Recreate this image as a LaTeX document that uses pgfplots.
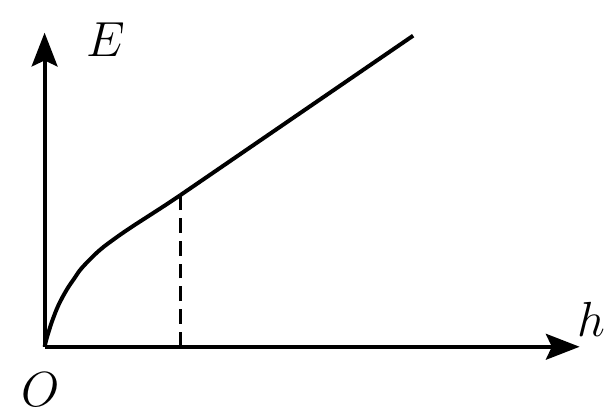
\documentclass[border=0pt]{standalone}
\usepackage{pgfplots}
\pgfplotsset{compat=1.18}
\usetikzlibrary{arrows.meta}

\begin{document}
\begin{tikzpicture}
\begin{axis}[
  scale only axis, width=270pt, height=158.5pt,
  xmin=0, xmax=540, ymin=0, ymax=317,
  axis lines=left, ticks=none, clip=false,
  axis line style={line width=2pt, -{Stealth[length=17pt, width=13pt, inset=3pt]}},
]
% frame of the picture, in pixel units of the reference
\path (axis cs:-45,-67) rectangle (axis cs:567,350);

% curved part E(h)
\addplot[line width=2pt, smooth, tension=0.6] coordinates {
  (0,0) (2,8) (5,18) (8,27) (14,42) (22,57) (30,69) (38,80)
  (55,97) (72,110) (88,121) (105,132) (122,143) (137,153)
};
% straight part
\addplot[line width=2pt] coordinates {(137,153) (372,314)};
% dashed marker
\addplot[line width=1.5pt, dash pattern=on 7.5pt off 4pt] coordinates {(137,0) (137,153)};

\node at (axis cs:62,310) {\fontsize{28}{30}\selectfont $E$};
\node at (axis cs:552,28) {\fontsize{28}{30}\selectfont $h$};
\node at (axis cs:-4,-43) {\fontsize{28}{30}\selectfont $O$};
\end{axis}
\end{tikzpicture}
\end{document}
